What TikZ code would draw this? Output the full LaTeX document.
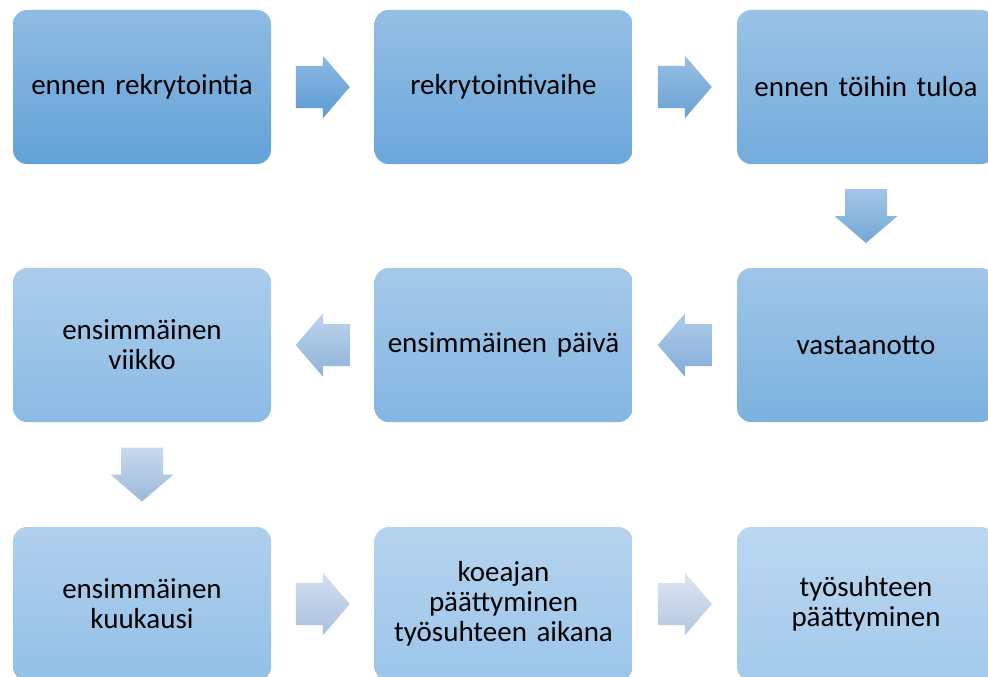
\documentclass[tikz,border=0pt]{standalone}
\usepackage{fontspec}
\setmainfont{Carlito}
\usetikzlibrary{calc}
\begin{document}
\begin{tikzpicture}[x=1pt,y=-1pt,
        stepbox/.style={rounded corners=14pt, minimum width=258pt, minimum height=154pt,
            inner sep=0pt, text width=250pt, align=center, font=\fontsize{29}{30}\selectfont}]
                \definecolor{boxtopA}{RGB}{143,187,227}
                \definecolor{boxtopB}{RGB}{187,215,240}
                \definecolor{boxbotA}{RGB}{98,162,216}
                \definecolor{boxbotB}{RGB}{163,202,236}
                \definecolor{arrtopA}{RGB}{141,184,224}
                \definecolor{arrtopB}{RGB}{222,231,243}
                \definecolor{arrbotA}{RGB}{91,155,211}
                \definecolor{arrbotB}{RGB}{180,197,223}

                \useasboundingbox (0,0) rectangle (988,677);

                \foreach \name/\x/\y/\txt [count=\i, evaluate=\i as \p using {int(100 - 12.5 * (\i - 1))}] in {
                    pre/142/87/{ennen rekrytointia},
                    rekry/503.5/87/{rekrytointivaihe},
                    ennen/866/87/{ennen töihin tuloa},
                    vast/866/345/{vastaanotto},
                    paiva/503.5/345/{ensimmäinen päivä},
                    viikko/142/345/{ensimmäinen\\viikko},
                    kuukausi/142/604/{ensimmäinen\\kuukausi},
                    koeaika/503.5/604/{koeajan\\päättyminen\\työsuhteen aikana},
                    loppu/866/604/{työsuhteen\\päättyminen}}{
                    \node [stepbox, top color=boxtopA!\p!boxtopB, bottom color=boxbotA!\p!boxbotB] (\name) at (\x, \y) {\txt};
                }

                \foreach \a/\b/\dir [count=\i, evaluate=\i as \p using {int(100 - 100 * (\i - 1) / 7)}] in {
                    pre/rekry/0, rekry/ennen/0, ennen/vast/-90, vast/paiva/180,
                    paiva/viikko/180, viikko/kuukausi/-90, kuukausi/koeaika/0, koeaika/loppu/0}{
                    \shade [top color=arrtopA!\p!arrtopB, bottom color=arrbotA!\p!arrbotB, shift={($(\a)!0.5!(\b)$)}, rotate=\dir]
                        (-27,-21) -- (0,-21) -- (0,-31.5) -- (27,0) -- (0,31.5) -- (0,21) -- (-27,21) -- cycle;
                }

            \end{tikzpicture}
\end{document}
